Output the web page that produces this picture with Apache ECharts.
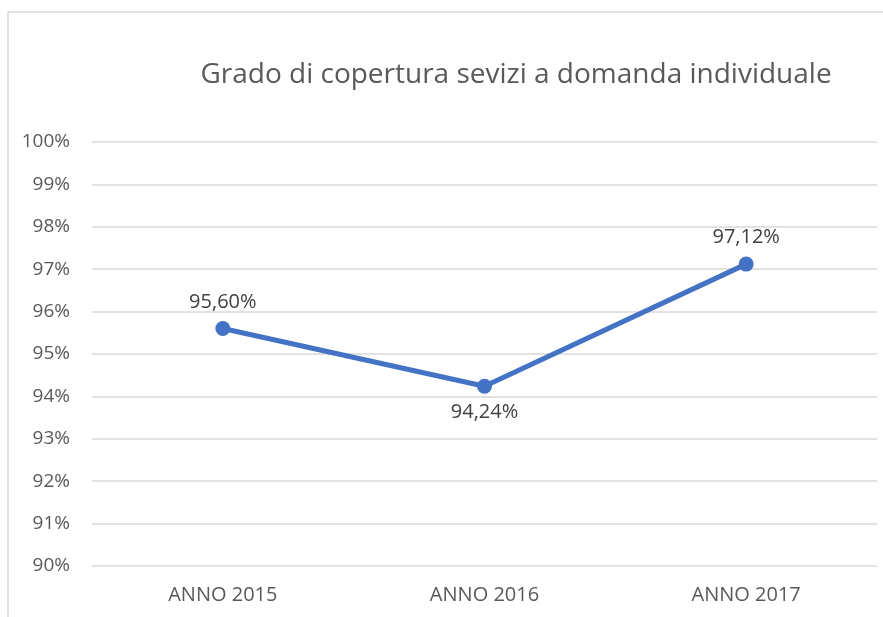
<!DOCTYPE html>
<html>
<head>
<meta charset="utf-8">
<script src="https://cdn.jsdelivr.net/npm/echarts@6/dist/echarts.min.js"></script>
<style>
  html, body { margin: 0; padding: 0; background: #fff; }
  #chart { width: 883px; height: 617px; }
</style>
</head>
<body>
<div id="chart"></div>
<script>
const title = 'Grado di copertura sevizi a domanda individuale'
const categories = ['ANNO 2015', 'ANNO 2016', 'ANNO 2017']
const values = [95.60, 94.24, 97.12]
const labelPositions = ['top', 'bottom', 'top']

const font = '"Open Sans", "Noto Sans", sans-serif'
const textColor = '#595959'

const chart = echarts.init(document.getElementById('chart'))

chart.setOption({
  animation: false,
  backgroundColor: '#fff',
  title: {
    text: title,
    left: 511,
    top: 56,
    textAlign: 'center',
    textStyle: { fontFamily: font, fontSize: 28, fontWeight: 'normal', color: textColor },
  },
  graphic: [{
    type: 'rect',
    shape: { x: 8, y: 12, width: 1000, height: 1000 },
    style: { fill: 'none', stroke: '#d9d9d9', lineWidth: 1.5 },
  }],
  grid: { left: 92, right: 6, top: 142, bottom: 51 },
  xAxis: {
    type: 'category',
    data: categories,
    axisLine: { show: false },
    axisTick: { show: false },
    axisLabel: { color: textColor, fontFamily: font, fontSize: 20, margin: 19 },
  },
  yAxis: {
    type: 'value',
    min: 90,
    max: 100,
    interval: 1,
    axisLine: { show: false },
    axisTick: { show: false },
    splitLine: { lineStyle: { color: '#d9d9d9', width: 1.5 } },
    axisLabel: {
      color: textColor,
      fontFamily: font,
      fontSize: 19,
      margin: 22,
      formatter: v => v + '%',
    },
  },
  series: [{
    type: 'line',
    data: values.map((v, i) => ({
      value: v,
      label: { position: labelPositions[i] },
    })),
    symbol: 'circle',
    symbolSize: 15,
    lineStyle: { color: '#4472c4', width: 5 },
    itemStyle: { color: '#4472c4' },
    label: {
      show: true,
      distance: 9,
      color: '#404040',
      fontFamily: font,
      fontSize: 20,
      formatter: p => p.value.toFixed(2).replace('.', ',') + '%',
    },
  }],
})
</script>
</body>
</html>
